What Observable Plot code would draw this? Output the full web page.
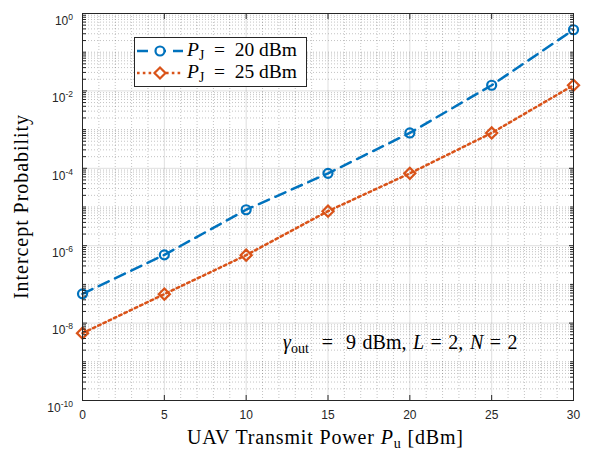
<!DOCTYPE html>
<html><head><meta charset="utf-8">
<script src="https://cdn.jsdelivr.net/npm/d3@7"></script>
<script src="https://cdn.jsdelivr.net/npm/@observablehq/plot@0.6"></script>
<style>
body{margin:0;background:#fff;}
#wrap{position:relative;width:591px;height:451px;overflow:hidden;}
</style></head><body><div id="wrap"></div>
<script>
// ---- data ----
const powers = [0, 5, 10, 15, 20, 25, 30];            // UAV transmit power P_u [dBm]
const pj20 = [5.7e-8, 5.8e-7, 8.5e-6, 7.4e-5, 8.2e-4, 1.4e-2, 0.38];   // P_J = 20 dBm
const pj25 = [5.5e-9, 5.6e-8, 5.7e-7, 7.8e-6, 7.4e-5, 8.2e-4, 1.4e-2]; // P_J = 25 dBm
const seriesLabels = ["20", "25"];
const xTicks = [0, 5, 10, 15, 20, 25, 30];
const yTickExps = [-10, -8, -6, -4, -2, 0];
const colors = ["#0072BD", "#D95319"];
const dashes = ["11,7", "2.6,3.2"];

const d20 = powers.map((p, i) => ({p, v: pj20[i]}));
const d25 = powers.map((p, i) => ({p, v: pj25[i]}));
const yMajor = yTickExps.map(e => Math.pow(10, e));
const xMinor = d3.range(0, 31).filter(v => v % 5 !== 0);
const yMinor = [];
for (let e = -10; e < 0; e++) for (let m = 1; m <= 9; m++) {
  if (m === 1 && e % 2 === 0) continue;
  yMinor.push(m * Math.pow(10, e));
}
const axisColor = "#262626";
const serif = "'Liberation Serif', 'Times New Roman', serif";

const chart = Plot.plot({
  width: 591, height: 451,
  marginLeft: 82, marginRight: 18, marginTop: 13, marginBottom: 51,
  style: {fontFamily: "'Liberation Sans', Arial, sans-serif", fontSize: "12px", color: axisColor, background: "#fff"},
  x: {domain: [0, 30], label: null},
  y: {type: "log", domain: [1e-10, 1], label: null},
  marks: [
    Plot.gridX(xMinor, {stroke: axisColor, strokeOpacity: 0.28, strokeDasharray: "1,2"}),
    Plot.gridY(yMinor, {stroke: axisColor, strokeOpacity: 0.28, strokeDasharray: "1,2"}),
    Plot.gridX(xTicks, {stroke: axisColor, strokeOpacity: 0.15}),
    Plot.gridY(yMajor, {stroke: axisColor, strokeOpacity: 0.15}),
    Plot.line(d20, {x: "p", y: "v", stroke: colors[0], strokeWidth: 2.5, strokeDasharray: dashes[0]}),
    Plot.line(d25, {x: "p", y: "v", stroke: colors[1], strokeWidth: 2.5, strokeDasharray: dashes[1]}),
    Plot.dot(d20, {x: "p", y: "v", r: 4.5, symbol: "circle", stroke: colors[0], strokeWidth: 2.2, fill: "none"}),
    Plot.dot(d25, {x: "p", y: "v", r: 5, symbol: "diamond2", stroke: colors[1], strokeWidth: 2.2, fill: "none"}),
    Plot.frame({stroke: axisColor}),
    Plot.axisX(xTicks, {anchor: "bottom", tickSize: -5, fill: "none", label: null}),
    Plot.axisX(xTicks, {anchor: "top", tickSize: -5, fill: "none", label: null}),
    Plot.axisY(yMajor, {anchor: "left", tickSize: -5, fill: "none", label: null}),
    Plot.axisY(yMajor, {anchor: "right", tickSize: -5, fill: "none", label: null}),
    Plot.axisY(yMinor, {anchor: "left", tickSize: -4, fill: "none", label: null}),
    Plot.axisY(yMinor, {anchor: "right", tickSize: -4, fill: "none", label: null}),
    Plot.axisX(xTicks, {anchor: "bottom", tickSize: 0, tickPadding: 9.5, label: null, tickFormat: d => String(d)}),
    Plot.axisY(yMajor, {anchor: "left", tickSize: 0, tickPadding: 9.5, label: null, tickFormat: d => String(Math.round(Math.log10(d)))})
  ]
});

const ns = "http://www.w3.org/2000/svg";
// superscript exponents on y tick labels
chart.querySelectorAll('g[aria-label="y-axis tick label"] text').forEach(t => {
  const exp = t.textContent.trim();
  while (t.firstChild) t.removeChild(t.firstChild);
  t.setAttribute("dy", "7.5");
  const base = document.createElementNS(ns, "tspan");
  base.textContent = "10";
  const sup = document.createElementNS(ns, "tspan");
  sup.textContent = exp;
  sup.setAttribute("dy", "-5");
  sup.setAttribute("font-size", "8.5px");
  t.appendChild(base); t.appendChild(sup);
});

// rich text helper: parts = [[text, style]], style "" | "i" | "sub"
function richText(parent, parts, attrs, fs) {
  const t = document.createElementNS(ns, "text");
  t.setAttribute("font-family", serif);
  t.setAttribute("font-size", fs);
  t.setAttribute("fill", "#000");
  t.setAttribute("text-anchor", "start");
  t.style.whiteSpace = "pre";
  for (const k in attrs) t.setAttribute(k, attrs[k]);
  const shift = fs * 0.22;
  let down = false;
  parts.forEach(([s, st]) => {
    const sp = document.createElementNS(ns, "tspan");
    sp.textContent = s;
    if (st === "i") sp.setAttribute("font-style", "italic");
    if (st === "sub") {
      sp.setAttribute("font-size", fs * 0.7);
      if (!down) { sp.setAttribute("dy", shift); down = true; }
    } else if (down) { sp.setAttribute("dy", -shift); down = false; }
    t.appendChild(sp);
  });
  parent.appendChild(t);
  return t;
}

const g = document.createElementNS(ns, "g");
chart.appendChild(g);

// axis labels
richText(g, [["UAV Transmit Power ", ""], ["P", "i"], ["u", "sub"], [" [dBm]", ""]],
  {x: 325, y: 444, "text-anchor": "middle", textLength: 276, lengthAdjust: "spacing"}, 20);
richText(g, [["Intercept Probability", ""]],
  {transform: "translate(28,207) rotate(-90)", "text-anchor": "middle", textLength: 184, lengthAdjust: "spacing"}, 20);

// annotation
richText(g, [["γ", "i"], ["out", "sub"], ["  =  9 dBm, ", ""], ["L", "i"], [" = 2, ", ""], ["N", "i"], [" = 2", ""]],
  {x: 283, y: 349, "word-spacing": "1.5px"}, 20);

// legend
const box = document.createElementNS(ns, "rect");
Object.entries({x: 134.5, y: 37.5, width: 172, height: 49, fill: "#fff", stroke: axisColor, "stroke-width": 1})
  .forEach(([k, v]) => box.setAttribute(k, v));
g.appendChild(box);
const rowsY = [51, 73];
seriesLabels.forEach((s, i) => {
  const y = rowsY[i];
  const ln = document.createElementNS(ns, "line");
  Object.entries({x1: 137, x2: 183, y1: y, y2: y, stroke: colors[i], "stroke-width": 2.5, "stroke-dasharray": dashes[i]})
    .forEach(([k, v]) => ln.setAttribute(k, v));
  g.appendChild(ln);
  let mk;
  if (i === 0) {
    mk = document.createElementNS(ns, "circle");
    mk.setAttribute("cx", 160); mk.setAttribute("cy", y); mk.setAttribute("r", 4.5);
  } else {
    mk = document.createElementNS(ns, "path");
    mk.setAttribute("d", `M160,${y - 5.5}L165.5,${y}L160,${y + 5.5}L154.5,${y}Z`);
  }
  mk.setAttribute("fill", "#fff"); mk.setAttribute("stroke", colors[i]); mk.setAttribute("stroke-width", 2.2);
  g.appendChild(mk);
  richText(g, [["P", "i"], ["J", "sub"], ["  =  " + s + " dBm", ""]],
    {x: 187, y: y + 4.5}, 19.5);
});

document.getElementById("wrap").appendChild(chart);
</script></body></html>
